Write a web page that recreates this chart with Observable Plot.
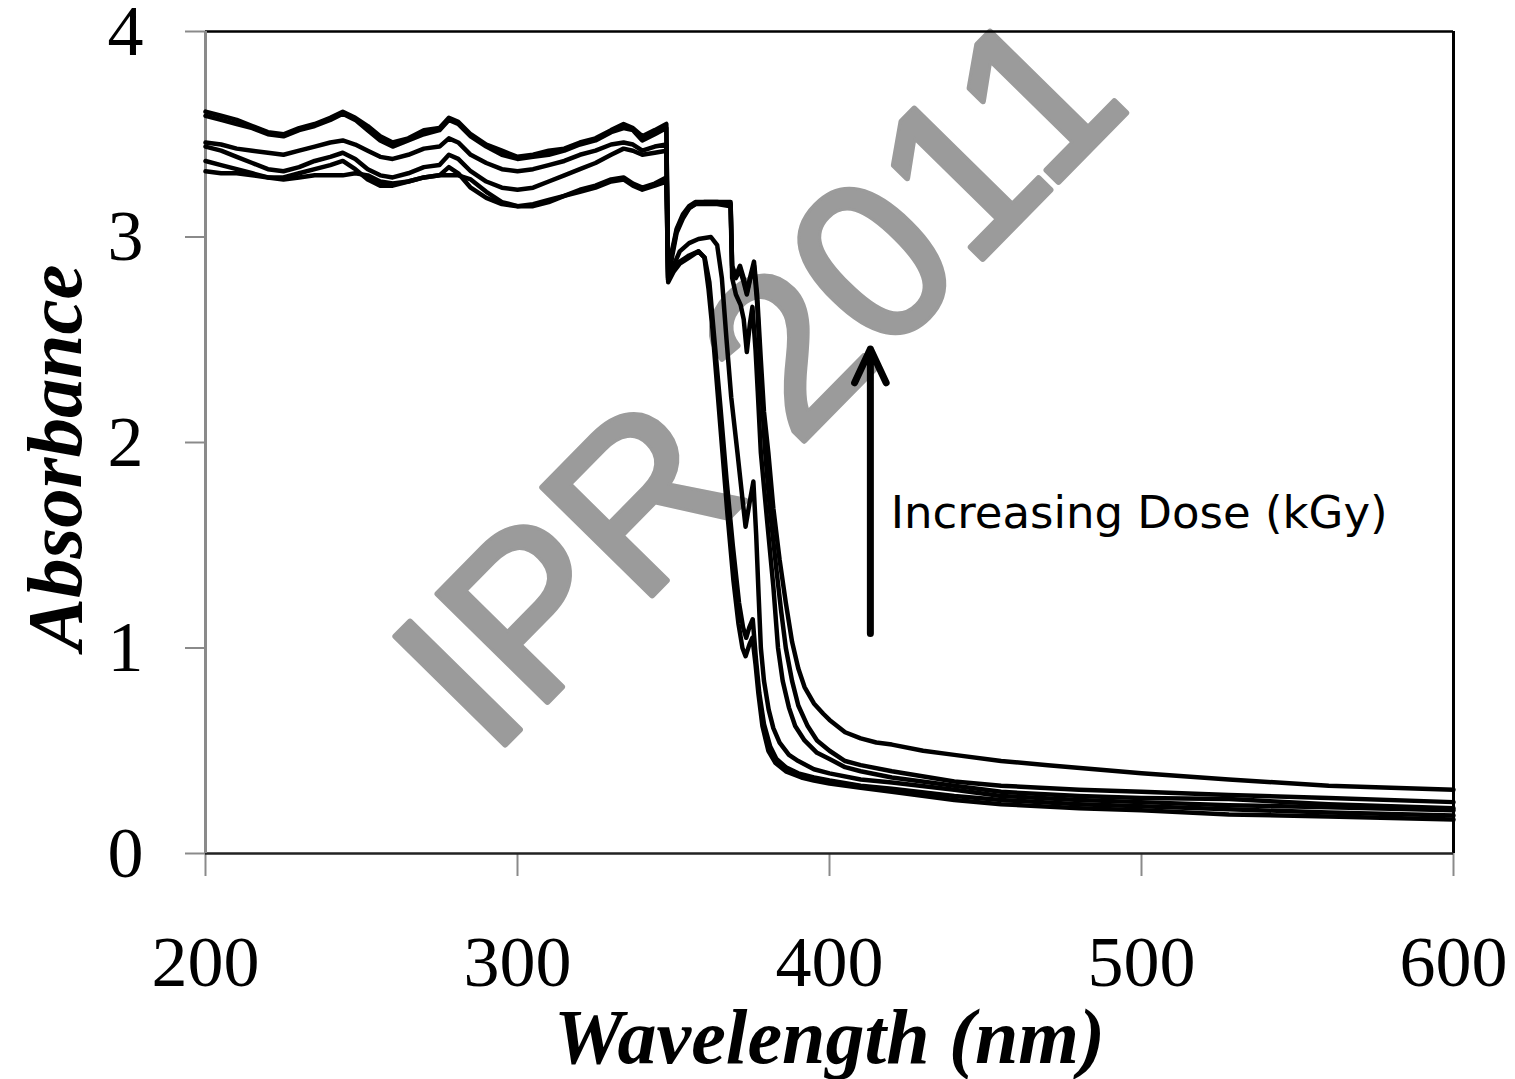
<!DOCTYPE html>
<html>
<head>
<meta charset="utf-8">
<script src="https://cdn.jsdelivr.net/npm/d3@7"></script>
<script src="https://cdn.jsdelivr.net/npm/@observablehq/plot@0.6"></script>
<style>
  html, body { margin: 0; padding: 0; background: #fff; }
  svg { display: block; }
</style>
</head>
<body>
<div id="chart"></div>
<script>
// UV-Vis absorbance spectra, one curve per irradiation dose (highest dose first).
// Each entry: [wavelength (nm), absorbance]
const curveA = [[200,3.61],[205,3.59],[210,3.57],[215,3.54],[220,3.51],[225,3.50],[230,3.53],[235,3.55],[240,3.58],[244,3.61],[248,3.58],[252,3.54],[256,3.49],[260,3.46],[265,3.48],[270,3.52],[275,3.53],[278,3.58],[281,3.56],[285,3.50],[290,3.45],[295,3.42],[300,3.39],[305,3.40],[310,3.42],[315,3.43],[320,3.46],[325,3.48],[330,3.52],[334,3.55],[337,3.53],[340,3.49],[344,3.52],[347.7,3.55],
  [348.3,2.80],[349.5,2.93],[351,3.04],[353,3.11],[355,3.15],[357,3.17],[360,3.17],[364,3.17],[368.3,3.17],[368.8,2.86],[370,2.81],[371.3,2.86],[372.5,2.80],[373.5,2.73],[374.5,2.80],[375.8,2.88],[376.8,2.72],[378,2.40],[379,2.15],[380.4,1.95],[382,1.68],[384,1.43],[386,1.22],[388,1.03],[390,0.90],[392,0.81],[395,0.73],[398,0.68],[400,0.65],[405,0.59],[410,0.56],[415,0.54],[420,0.53],[430,0.50],[440,0.48],[455,0.45],[470,0.43],[485,0.41],[500,0.39],[528,0.36],[560,0.33],[600,0.31]];

const curveB = [[200,3.59],[205,3.57],[210,3.55],[215,3.53],[220,3.50],[225,3.49],[230,3.52],[235,3.54],[240,3.57],[244,3.60],[248,3.57],[252,3.52],[256,3.47],[260,3.44],[265,3.47],[270,3.50],[275,3.52],[278,3.57],[281,3.55],[285,3.49],[290,3.44],[295,3.40],[300,3.38],[305,3.39],[310,3.40],[315,3.42],[320,3.45],[325,3.47],[330,3.51],[334,3.53],[337,3.52],[340,3.47],[344,3.50],[347.7,3.53],
  [348.3,2.80],[349.5,2.92],[351,3.03],[353,3.10],[355,3.14],[357,3.16],[360,3.17],[364,3.17],[368.3,3.16],[368.8,2.85],[370,2.80],[371.3,2.84],[372.5,2.78],[373.5,2.72],[374.5,2.79],[375.8,2.86],[376.8,2.68],[378,2.30],[379.4,1.95],[381,1.66],[383,1.38],[384.5,1.18],[386,1.00],[388,0.84],[390,0.72],[393,0.62],[396,0.55],[400,0.50],[405,0.45],[410,0.43],[420,0.40],[440,0.35],[455,0.33],[480,0.31],[500,0.30],[528,0.285],[560,0.27],[600,0.25]];

const curveC = [[200,3.46],[205,3.45],[210,3.43],[215,3.42],[220,3.41],[225,3.40],[230,3.42],[235,3.44],[240,3.46],[244,3.47],[248,3.45],[252,3.42],[256,3.39],[260,3.38],[265,3.40],[270,3.43],[275,3.44],[278,3.48],[281,3.46],[285,3.40],[290,3.36],[295,3.33],[300,3.32],[305,3.33],[310,3.35],[315,3.37],[320,3.40],[325,3.42],[330,3.45],[334,3.46],[337,3.45],[340,3.42],[344,3.44],[347.7,3.45],
  [348.3,2.79],[349.5,2.90],[351,3.02],[353,3.09],[355,3.14],[357,3.16],[360,3.16],[364,3.16],[368.3,3.15],[368.8,2.80],[370,2.72],[371.5,2.67],[372.5,2.60],[373.5,2.44],[374.5,2.58],[375.3,2.66],[376.3,2.45],[377,2.25],[378,1.95],[380,1.62],[382,1.30],[383.5,1.00],[385,0.84],[387,0.71],[389,0.62],[392,0.55],[396,0.49],[400,0.46],[405,0.42],[410,0.40],[420,0.37],[440,0.33],[455,0.30],[480,0.28],[500,0.27],[528,0.265],[560,0.24],[600,0.22]];

const curveD = [[200,3.44],[205,3.42],[210,3.39],[215,3.36],[220,3.33],[225,3.32],[230,3.34],[235,3.37],[240,3.39],[244,3.41],[248,3.38],[252,3.33],[256,3.30],[260,3.29],[265,3.31],[270,3.34],[275,3.35],[278,3.40],[281,3.38],[285,3.32],[290,3.27],[295,3.24],[300,3.23],[305,3.24],[310,3.27],[315,3.30],[320,3.33],[325,3.36],[330,3.40],[334,3.43],[337,3.42],[340,3.40],[344,3.41],[347.7,3.42],
  [348.3,2.79],[350,2.86],[352,2.93],[355,2.97],[358,2.99],[362,3.00],[364,2.96],[365.5,2.80],[367,2.50],[368.5,2.22],[370.5,1.95],[372,1.74],[373.1,1.59],[374.3,1.70],[375.6,1.81],[376.5,1.55],[377.3,1.25],[378,1.00],[379,0.84],[380.5,0.70],[382,0.61],[384,0.54],[387,0.48],[390,0.45],[395,0.41],[400,0.39],[410,0.36],[420,0.345],[440,0.31],[455,0.28],[480,0.26],[500,0.25],[528,0.235],[560,0.225],[600,0.21]];

const curveE = [[200,3.37],[205,3.35],[210,3.33],[215,3.31],[220,3.29],[225,3.29],[230,3.31],[235,3.33],[240,3.35],[244,3.37],[248,3.33],[252,3.28],[256,3.25],[260,3.25],[265,3.27],[270,3.29],[275,3.30],[278,3.34],[281,3.31],[285,3.24],[290,3.19],[295,3.16],[300,3.15],[305,3.16],[310,3.18],[315,3.20],[320,3.23],[325,3.25],[330,3.28],[334,3.29],[337,3.26],[340,3.24],[344,3.26],[347.7,3.29],
  [348.3,2.79],[350,2.84],[352,2.88],[355,2.91],[358,2.93],[360,2.90],[361.5,2.78],[363,2.52],[365,2.18],[367,1.82],[369,1.50],[371,1.22],[372.3,1.10],[373.3,1.05],[374.3,1.10],[375.4,1.14],[376.4,0.95],[377.5,0.78],[379,0.63],[381,0.52],[383,0.46],[386,0.42],[390,0.39],[395,0.37],[400,0.355],[410,0.33],[420,0.315],[440,0.28],[455,0.26],[480,0.24],[500,0.23],[528,0.215],[560,0.20],[600,0.185]];

const curveF = [[200,3.32],[205,3.31],[210,3.31],[215,3.30],[220,3.29],[225,3.28],[230,3.29],[235,3.30],[240,3.30],[244,3.30],[248,3.31],[252,3.30],[256,3.27],[260,3.26],[265,3.27],[270,3.29],[275,3.30],[278,3.30],[281,3.30],[285,3.28],[290,3.22],[295,3.17],[300,3.15],[305,3.15],[310,3.17],[315,3.20],[320,3.22],[325,3.24],[330,3.27],[334,3.28],[337,3.25],[340,3.23],[344,3.25],[347.7,3.27],
  [348.3,2.78],[350,2.83],[352,2.87],[355,2.90],[358,2.93],[359.9,2.90],[361.2,2.75],[362.5,2.55],[364.1,2.25],[365.7,1.95],[367.3,1.65],[369.2,1.33],[370.8,1.12],[372.1,1.00],[373.1,0.96],[374.4,1.02],[375.3,1.05],[376.3,0.92],[377.2,0.78],[378.5,0.62],[380.4,0.50],[382.7,0.44],[386,0.40],[391,0.37],[395,0.355],[400,0.34],[410,0.32],[420,0.30],[440,0.26],[455,0.24],[480,0.22],[500,0.21],[528,0.19],[560,0.18],[600,0.165]];

const doses = ["A", "B", "C", "D", "E", "F"];
const curves = [curveA, curveB, curveC, curveD, curveE, curveF];

const xTicks = [200, 300, 400, 500, 600];
const yTicks = [0, 1, 2, 3, 4];

const xLabel = "Wavelength (nm)";
const yLabel = "Absorbance";
const noteText = "Increasing Dose (kGy)";
const watermarkText = "IPR 2011";

// Annotation anchors, in data units
const arrowAt = {nm: 413.1, from: 1.07, to: 2.455};
const noteAt = {nm: 419.6, abs: 1.586};
const watermarkAt = {nm: 394.5, abs: 2.05}; // baseline centre of the watermark

const rows = curves.flatMap((pts, i) =>
  pts.map(([nm, abs]) => ({dose: doses[i], nm, abs}))
);

const serif = "'Liberation Serif', 'Times New Roman', Times, serif";
const sans = "'DejaVu Sans', Verdana, sans-serif";

const chart = Plot.plot({
  width: 1515,
  height: 1079,
  marginLeft: 205,
  marginRight: 62,
  marginTop: 31,
  marginBottom: 226,
  style: {background: "#fff", color: "#000", fontFamily: serif},
  x: {type: "linear", domain: d3.extent(xTicks)},
  y: {type: "linear", domain: d3.extent(yTicks)},
  marks: [
    // watermark behind the data
    Plot.text([watermarkAt], {
      x: "nm", y: "abs", text: () => watermarkText,
      rotate: -45.5, fontSize: 224, fontFamily: "'Liberation Sans', Arial, sans-serif",
      fill: "#9b9b9b", stroke: "#9b9b9b", strokeWidth: 6, strokeLinejoin: "round",
      textAnchor: "middle", lineAnchor: "bottom"
    }),
    Plot.axisX({
      ticks: xTicks, tickSize: 23, tickPadding: 58, fontSize: 72,
      stroke: "#8a8a8a", strokeWidth: 2, fill: "#000", label: null, tickFormat: d => String(d)
    }),
    Plot.axisY({
      ticks: yTicks, tickSize: 20, tickPadding: 42, fontSize: 72,
      stroke: "#8a8a8a", strokeWidth: 2, fill: "#000", label: null, tickFormat: d => String(d)
    }),
    // frame
    Plot.ruleY([d3.max(yTicks)], {stroke: "#000", strokeWidth: 2.5}),
    Plot.ruleX([d3.max(xTicks)], {stroke: "#000", strokeWidth: 3}),
    Plot.ruleY([d3.min(yTicks)], {stroke: "#222", strokeWidth: 2.5}),
    Plot.ruleX([d3.min(xTicks)], {stroke: "#8a8a8a", strokeWidth: 3}),
    // spectra
    Plot.line(rows, {
      x: "nm", y: "abs", z: "dose", stroke: "#000", strokeWidth: 4.5,
      strokeLinejoin: "round", strokeLinecap: "round"
    }),
    // dose annotation
    Plot.arrow([arrowAt], {
      x1: "nm", x2: "nm", y1: "from", y2: "to",
      stroke: "#000", strokeWidth: 7, headLength: 8, headAngle: 50
    }),
    Plot.text([noteAt], {
      x: "nm", y: "abs", text: () => noteText, fontSize: 45, fontFamily: sans,
      fill: "#000", textAnchor: "start", lineAnchor: "bottom"
    }),
    // axis titles
    Plot.text([xLabel], {
      frameAnchor: "bottom", dy: 209, text: d => d, fontSize: 78,
      fontWeight: "bold", fontStyle: "italic", textAnchor: "middle", lineAnchor: "bottom"
    }),
    Plot.text([yLabel], {
      frameAnchor: "left", dx: -150, dy: 15, text: d => d, rotate: -90, fontSize: 79,
      fontWeight: "bold", fontStyle: "italic", textAnchor: "middle", lineAnchor: "middle"
    })
  ]
});

document.getElementById("chart").appendChild(chart);
</script>
</body>
</html>
